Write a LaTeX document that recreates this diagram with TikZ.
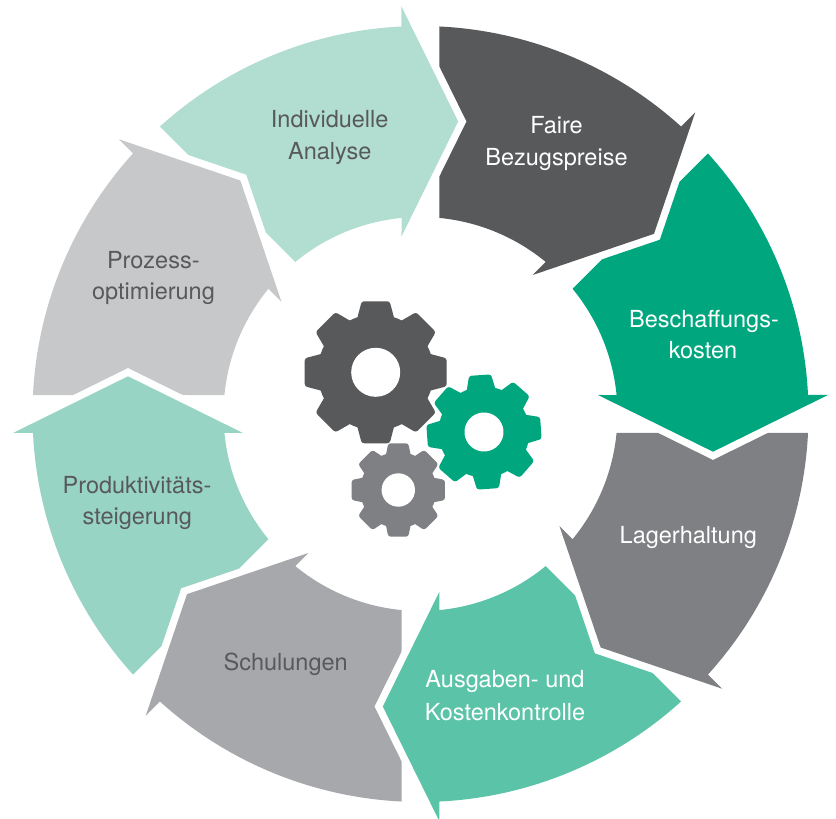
\documentclass[tikz,border=0pt]{standalone}
\usepackage{fontspec}
\setmainfont{TeX Gyre Heros}
\definecolor{cInd}{HTML}{B2DDD1}
\definecolor{cFai}{HTML}{58595B}
\definecolor{cBes}{HTML}{00A77E}
\definecolor{cLag}{HTML}{7F8083}
\definecolor{cAus}{HTML}{5BC4A8}
\definecolor{cSch}{HTML}{A6A8AB}
\definecolor{cPro}{HTML}{98D4C4}
\definecolor{cPoz}{HTML}{C7C8CA}
\definecolor{cTxt}{HTML}{58595B}
\tikzset{
  lbl/.style={font=\fontsize{23.5pt}{28pt}\selectfont, anchor=base, inner sep=0pt},
  dk/.style={text=cTxt},
  wt/.style={text=white}
}
% segment whose arrow head sits on the radial line at angle #1 (clockwise flow)
\newcommand\segshape[2]{%
  \fill[#2, rotate=#1]
    (42.193:388pt) arc[start angle=42.193, end angle=2.807, radius=388pt]
    -- (407.5pt,19pt) -- (292.5pt,-37.7pt) -- (177.5pt,19pt)
    -- (5.534:197pt) arc[start angle=5.534, end angle=39.466, radius=197pt]
    -- (40.430:238.46pt) -- (36.062:296.1pt) -- (41.869:347.82pt) -- cycle;}
% gear: x, y, tip R, root r, hole, half width tip, half width base, rotation, colour
\newcommand\mygear[9]{%
  \begin{scope}[shift={(#1,#2)}, rotate=#8]
    \fill[#9] (0,0) circle[radius=#4pt];
    \foreach \a in {0,45,...,315}{
      \fill[#9, rotate=\a, rounded corners=2.5pt]
        (#4-6,-#7) -- (#3,-#6) -- (#3,#6) -- (#4-6,#7) -- cycle;}
    \fill[white] (0,0) circle[radius=#5pt];
  \end{scope}}
\begin{document}
\begin{tikzpicture}[x=1pt,y=1pt]
\useasboundingbox[fill=white] (-420.5,-405) rectangle (415.5,414);
\segshape{90}{cInd}
\segshape{45}{cFai}
\segshape{0}{cBes}
\segshape{-45}{cLag}
\segshape{-90}{cAus}
\segshape{-135}{cSch}
\segshape{180}{cPro}
\segshape{135}{cPoz}
% labels
\node[lbl,dk] (ind1) at (-90.8,286.3) {Individuelle};
\node[lbl,dk] (ind2) at (-90.8,254) {Analyse};
\node[lbl,wt] (fai1) at (136,280.7) {Faire};
\node[lbl,wt] (fai2) at (136,248.3) {Bezugspreise};
\node[lbl,wt] (bes1) at (283.5,86.7) {Beschaffungs-};
\node[lbl,wt] (bes2) at (282.5,55) {kosten};
\node[lbl,wt] (lag1) at (267.8,-130) {Lagerhaltung};
\node[lbl,wt] (aus1) at (84.5,-273.7) {Ausgaben- und};
\node[lbl,wt] (aus2) at (84.5,-306) {Kostenkontrolle};
\node[lbl,dk] (sch1) at (-134.8,-256) {Schulungen};
\node[lbl,dk] (prd1) at (-283.5,-79.3) {Produktivitäts-};
\node[lbl,dk] (prd2) at (-283.2,-111) {steigerung};
\node[lbl,dk] (poz1) at (-267.2,145.7) {Prozess-};
\node[lbl,dk] (poz2) at (-267,114.5) {optimierung};
% gears
\mygear{-44.8}{41.7}{71}{58}{24.5}{14}{19}{0}{cFai}
\mygear{63.5}{-18}{57}{45.5}{19.5}{11}{15}{4}{cBes}
\mygear{-22.2}{-76}{46.7}{38}{16.7}{10}{13}{0}{cLag}
\end{tikzpicture}
\end{document}
